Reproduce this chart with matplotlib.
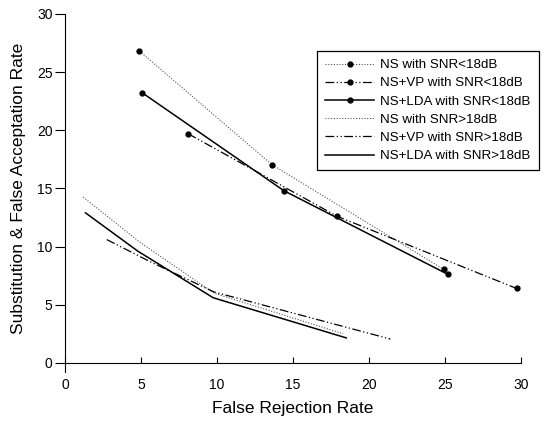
import matplotlib
matplotlib.use("Agg")
import matplotlib.pyplot as plt

plt.rcParams['font.family'] = ['Liberation Sans', 'DejaVu Sans']

# SNR < 18dB (with markers)
ns_lo_x = [4.9, 13.6, 24.9]
ns_lo_y = [26.8, 17.05, 8.05]
vp_lo_x = [8.1, 17.9, 29.7]
vp_lo_y = [19.7, 12.6, 6.4]
lda_lo_x = [5.1, 14.4, 25.2]
lda_lo_y = [23.2, 14.8, 7.6]

# SNR > 18dB (no markers)
ns_hi_x = [1.2, 4.9, 9.8, 18.3]
ns_hi_y = [14.25, 10.4, 6.0, 2.5]
vp_hi_x = [2.75, 5.6, 9.8, 21.4]
vp_hi_y = [10.6, 8.7, 6.1, 2.05]
lda_hi_x = [1.35, 4.8, 9.75, 18.5]
lda_hi_y = [12.9, 9.6, 5.6, 2.15]

labels = ['NS with SNR<18dB', 'NS+VP with SNR<18dB', 'NS+LDA with SNR<18dB',
          'NS with SNR>18dB', 'NS+VP with SNR>18dB', 'NS+LDA with SNR>18dB']

fig = plt.figure(figsize=(5.55, 4.21), dpi=100, facecolor='white')
ax = fig.add_axes([0.117, 0.138, 0.822, 0.829])

dot = dict(color='#555555', lw=0.8, linestyle=(0, (1, 1.5)))
dashdot = dict(color='black', lw=0.9, dashes=(7, 2, 1, 2, 1, 2))
solid = dict(color='black', lw=1.1, linestyle='-')
mk = dict(marker='o', markersize=3.5, markerfacecolor='black', markeredgecolor='black')

ax.plot(ns_lo_x, ns_lo_y, label=labels[0], **dot, **mk)
ax.plot(vp_lo_x, vp_lo_y, label=labels[1], **dashdot, **mk)
ax.plot(lda_lo_x, lda_lo_y, label=labels[2], **solid, **mk)
ax.plot(ns_hi_x, ns_hi_y, label=labels[3], **dot)
ax.plot(vp_hi_x, vp_hi_y, label=labels[4], **dashdot)
ax.plot(lda_hi_x, lda_hi_y, label=labels[5], **solid)

ax.set_xlim(0, 30)
ax.set_ylim(0, 30)
ax.set_xticks(range(0, 31, 5))
ax.set_yticks(range(0, 31, 5))
ax.spines['top'].set_visible(False)
ax.spines['right'].set_visible(False)
ax.spines['left'].set_bounds(-0.8, 30)
ax.tick_params(axis='x', direction='in', length=4.3, pad=11, labelsize=10)
ax.tick_params(axis='y', direction='out', length=7.5, pad=1.5, labelsize=10)
ax.set_xlabel('False Rejection Rate', fontsize=12.5, labelpad=6)
ax.set_ylabel('Substitution & False Acceptation Rate', fontsize=12.5, labelpad=8)

leg = ax.legend(loc='upper left', bbox_to_anchor=(0.571, 0.879),
                bbox_transform=fig.transFigure, borderaxespad=0,
                fontsize=9.6, fancybox=False, edgecolor='black', framealpha=1,
                handlelength=3.7, handletextpad=0.45, borderpad=0.6,
                labelspacing=0.44)
leg.get_frame().set_linewidth(0.9)

fig.savefig('out.png', dpi=100)
